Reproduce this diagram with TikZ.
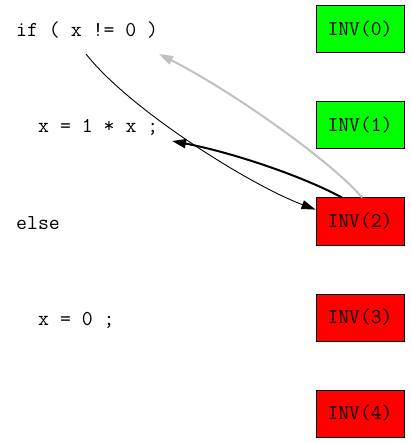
\documentclass[tikz,border=0pt]{standalone}
\usepackage{fontspec}
\usetikzlibrary{arrows.meta}
\definecolor{boxgreen}{RGB}{0,255,0}
\definecolor{boxred}{RGB}{255,0,0}
\definecolor{edgegray}{RGB}{192,192,192}
\begin{document}
\begin{tikzpicture}[x=1pt,y=-1pt,
  invbox/.style={draw=black, line width=1pt, minimum width=88pt, minimum height=47pt,
    inner sep=0pt, font=\ttfamily\fontsize{21}{21}\selectfont},
  code/.style={anchor=base west, inner sep=0pt, font=\ttfamily\fontsize{21.2}{21.2}\selectfont},
  tip/.style={-{Triangle[length=14pt,width=9pt]}},
  thinedge/.style={tip, line width=0.9pt, black},
  thickedge/.style={tip, line width=2pt, black},
  grayedge/.style={tip, line width=2pt, edgegray}]
\useasboundingbox (0,0) rectangle (410,443);
\node[invbox, fill=boxgreen] (inv0) at (360,29.5) {INV(0)};
\node[invbox, fill=boxgreen] (inv1) at (360,125.5) {INV(1)};
\node[invbox, fill=boxred] (inv2) at (360,221.5) {INV(2)};
\node[invbox, fill=boxred] (inv3) at (360,317.5) {INV(3)};
\node[invbox, fill=boxred] (inv4) at (360,413.5) {INV(4)};
\node[code] (ifn) at (16,37) {if ( x != 0 )};
\node[code] (asg1) at (38,133) {x = 1 * x ;};
\node[code] (elsen) at (16,229) {else};
\node[code] (asg0) at (38,325) {x = 0 ;};
\coordinate (ifout) at (86,54);
\coordinate (ifin) at (159,54);
\coordinate (asgin) at (172,141);
\draw[thinedge] (ifout) .. controls (130,110) and (250,185) .. (inv2.165);
\draw[thickedge] (inv2.127) .. controls (300,175) and (230,152) .. (asgin);
\draw[grayedge] (inv2.85) .. controls (330,160) and (230,90) .. (ifin);
\end{tikzpicture}
\end{document}
